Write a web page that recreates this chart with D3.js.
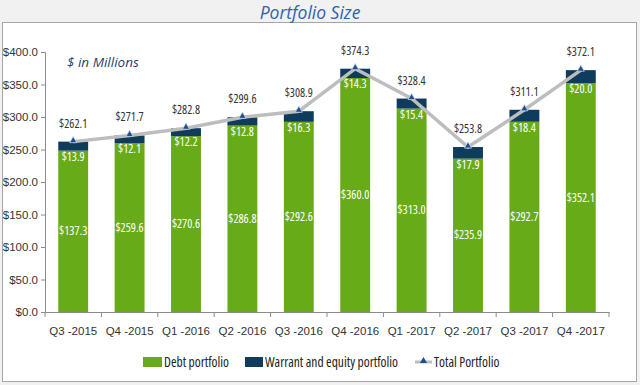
<!DOCTYPE html>
<html>
<head>
<meta charset="utf-8">
<script src="https://cdn.jsdelivr.net/npm/d3@7"></script>
<style>
  body { margin: 0; background: #f1f1f1; }
  svg { display: block; font-family: "Open Sans", sans-serif; font-stretch: condensed; }
</style>
</head>
<body>
<div id="chart"></div>
<script>
const quarters = ['Q3 -2015', 'Q4 -2015', 'Q1 -2016', 'Q2 -2016', 'Q3 -2016',
  'Q4 -2016', 'Q1 -2017', 'Q2 -2017', 'Q3 -2017', 'Q4 -2017'];
// debt bar heights (first one, label in source says 137.3)
const debt = [248.2, 259.6, 270.6, 286.8, 292.6, 360.0, 313.0, 235.9, 292.7, 352.1];
const debtLabels = ['$137.3', '$259.6', '$270.6', '$286.8', '$292.6', '$360.0', '$313.0', '$235.9', '$292.7', '$352.1'];
const warrant = [13.9, 12.1, 12.2, 12.8, 16.3, 14.3, 15.4, 17.9, 18.4, 20.0];
const total = [262.1, 271.7, 282.8, 299.6, 308.9, 374.3, 328.4, 253.8, 311.1, 372.1];
const yTicks = [0, 50, 100, 150, 200, 250, 300, 350, 400];

const W = 640, H = 385;
const margin = { top: 52, left: 45, right: 31, bottom: 73 };
const green = '#68ab19', navy = '#0f3b5c', lineGray = '#bdbdbd';

const svg = d3.select('#chart').append('svg')
  .attr('width', W).attr('height', H);

/* panel */
svg.append('rect').attr('x', 2.5).attr('y', 22.5).attr('width', 634).attr('height', 359)
  .attr('fill', '#fff').attr('stroke', '#a6a6a6');

svg.append('text').attr('x', 310).attr('y', 19).attr('text-anchor', 'middle')
  .attr('font-style', 'italic').attr('font-stretch', 'normal')
  .attr('font-size', 17.5).attr('fill', '#2f63ad').text('Portfolio Size');

const x = d3.scaleBand().domain(quarters).range([margin.left, W - margin.right]).paddingInner(0.47).paddingOuter(0.235);
const y = d3.scaleLinear().domain([0, 400]).range([H - margin.bottom, margin.top]);

/* axes */
const yAxis = svg.append('g').attr('transform', `translate(${margin.left},0)`)
  .call(d3.axisLeft(y).tickValues(yTicks).tickSize(4).tickFormat(d => '$' + d.toFixed(1)));
const xAxis = svg.append('g').attr('transform', `translate(0,${y(0)})`)
  .call(d3.axisBottom(x).tickSize(0).tickPadding(15));
[yAxis, xAxis].forEach(g => {
  g.select('.domain').attr('stroke', '#8c8c8c');
  g.selectAll('line').attr('stroke', '#8c8c8c');
  g.selectAll('text').attr('fill', '#333').attr('font-size', 11.5).attr('font-family', null);
});
// category boundary ticks
const step = x.step();
xAxis.selectAll('.bound').data(d3.range(quarters.length + 1)).join('line')
  .attr('x1', i => margin.left + i * step).attr('x2', i => margin.left + i * step)
  .attr('y1', 0).attr('y2', 5).attr('stroke', '#8c8c8c');

/* bars */
const bars = svg.append('g');
bars.selectAll('.debt').data(quarters).join('rect')
  .attr('x', d => x(d)).attr('width', x.bandwidth())
  .attr('y', (d, i) => y(debt[i])).attr('height', (d, i) => y(0) - y(debt[i]))
  .attr('fill', green);
bars.selectAll('.warrant').data(quarters).join('rect')
  .attr('x', d => x(d)).attr('width', x.bandwidth())
  .attr('y', (d, i) => y(debt[i] + warrant[i])).attr('height', (d, i) => y(debt[i]) - y(debt[i] + warrant[i]))
  .attr('fill', navy);

const cx = d => x(d) + x.bandwidth() / 2;
svg.append('g').selectAll('text').data(quarters).join('text')
  .attr('x', cx).attr('y', (d, i) => y(debt[i] / 2) + 4)
  .attr('text-anchor', 'middle').attr('font-size', 12).attr('fill', '#fff')
  .text((d, i) => debtLabels[i]);
svg.append('g').selectAll('text').data(quarters).join('text')
  .attr('x', cx).attr('y', (d, i) => y(debt[i]) + 10)
  .attr('text-anchor', 'middle').attr('font-size', 12).attr('fill', '#fff')
  .text((d, i) => '$' + warrant[i].toFixed(1));

/* total line */
const line = d3.line().x((d, i) => cx(quarters[i])).y(d => y(d));
svg.append('path').datum(total).attr('d', line)
  .attr('fill', 'none').attr('stroke', lineGray).attr('stroke-width', 3.5);
const tri = d3.symbol().type(d3.symbolTriangle).size(22);
svg.append('g').selectAll('path').data(total).join('path')
  .attr('transform', (d, i) => `translate(${cx(quarters[i])},${y(d) - 1})`)
  .attr('d', tri).attr('fill', '#1f4e8c').attr('stroke', '#c9d3e3').attr('stroke-width', 0.8);
svg.append('g').selectAll('text').data(total).join('text')
  .attr('x', (d, i) => cx(quarters[i])).attr('y', d => y(d) - 14)
  .attr('text-anchor', 'middle').attr('font-size', 12).attr('fill', '#333')
  .text(d => '$' + d.toFixed(1));

svg.append('text').attr('x', 67).attr('y', 67)
  .attr('font-style', 'italic').attr('font-stretch', 'normal')
  .attr('font-size', 13.5).attr('fill', '#1f3f6e').text('$ in Millions');

/* legend */
const legend = svg.append('g').attr('font-size', 13.5).attr('fill', '#222');
legend.append('rect').attr('x', 143).attr('y', 357).attr('width', 19).attr('height', 10).attr('fill', green);
legend.append('text').attr('x', 164).attr('y', 367).text('Debt portfolio');
legend.append('rect').attr('x', 245).attr('y', 357).attr('width', 18).attr('height', 10).attr('fill', navy);
legend.append('text').attr('x', 265).attr('y', 367).text('Warrant and equity portfolio');
legend.append('line').attr('x1', 415).attr('x2', 432).attr('y1', 362).attr('y2', 362)
  .attr('stroke', lineGray).attr('stroke-width', 3);
legend.append('path').attr('transform', 'translate(423.5,361)').attr('d', tri).attr('fill', '#1f4e8c');
legend.append('text').attr('x', 434).attr('y', 367).text('Total Portfolio');
</script>
</body>
</html>
